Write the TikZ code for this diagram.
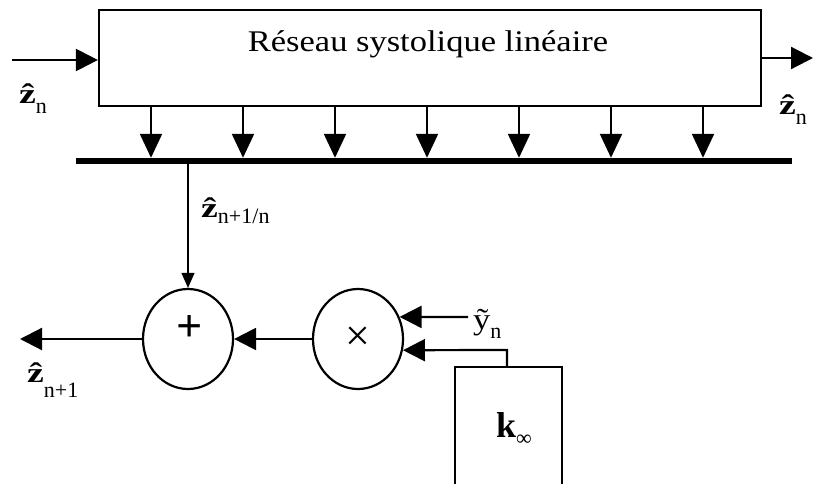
\documentclass[tikz,border=0pt]{standalone}
\usepackage{fontspec}
\setmainfont{Liberation Serif}
\usetikzlibrary{arrows.meta,shapes.geometric}
\newcommand{\hs}[1]{\scalebox{1.15}[1]{#1}}
\newcommand{\zhat}{\scalebox{1.35}[1]{\fontsize{28}{28}\selectfont\bfseries ẑ}}
\newcommand{\lowsub}[2]{\raisebox{-#1pt}{\fontsize{22}{22}\selectfont #2}}
\tikzset{
  blk/.style={draw, line width=2.2pt, inner sep=0pt},
  sumnode/.style={draw, ellipse, line width=2.2pt, minimum width=90pt, minimum height=100pt, inner sep=0pt},
  bigarrow/.style={line width=2.2pt, -{Triangle[length=22pt,width=22pt]}},
  thinarrow/.style={line width=1.1pt, -{Triangle[length=15pt,width=13pt]}},
  lab/.style={inner sep=0pt, anchor=base west}
}
\begin{document}
\begin{tikzpicture}[x=1pt,y=-1pt]
\useasboundingbox (0,0) rectangle (813,484);
\clip (0,0) rectangle (813,484);
% main block
\node[blk, minimum width=662pt, minimum height=96pt] (sys) at (430,58) {};
\node[inner sep=0pt, anchor=base, font=\fontsize{30}{30}\selectfont] (systxt) at (428,52) {\hs{Réseau systolique linéaire}};
% bus bar
\node[fill=black, inner sep=0pt, minimum width=716pt, minimum height=6pt] (bar) at (434,161) {};
% down arrows
\foreach \i/\x in {1/151,2/243,3/335,4/427,5/519,6/611,7/703}{
  \coordinate (c\i) at (\x,0);
  \draw[line width=2.2pt, -{Triangle[length=24pt,width=22pt]}] (sys.south -| c\i) -- (bar.north -| c\i);
}
% input / output of block
\coordinate (zin) at (12,60);
\draw[bigarrow] (zin) -- (zin -| sys.west);
\coordinate (zo) at (813,58);
\draw[bigarrow] (sys.east |- zo) -- (zo);
\node[lab] (lzin) at (19,103) {\zhat\lowsub{10}{n}};
\node[lab] (lzo) at (779,114) {\zhat\lowsub{10}{n}};
% adder and multiplier
\node[sumnode] (plus) at (188,339) {};
\node[inner sep=0pt, font=\fontsize{46}{46}\selectfont\bfseries] (plussign) at (190,329) {+};
\node[sumnode] (times) at (358,339) {\fontsize{44}{44}\selectfont ×};
\draw[thinarrow] (bar.south -| plus) -- (plus.north);
\node[lab] (lpred) at (201,217) {\zhat\lowsub{6}{n+1/n}};
\draw[bigarrow] (times.west) -- (plus.east);
\coordinate (zout) at (20,339);
\draw[bigarrow] (plus.west) -- (zout);
\node[lab] (lzout) at (27,382) {\zhat\lowsub{15}{n+1}};
% innovation input
\coordinate (yin) at (468,317);
\draw[bigarrow] (yin) -- (times.28.6);
\node[lab] (ly) at (473,329) {\scalebox{1.15}[1]{\fontsize{30}{30}\selectfont ỹ}\lowsub{9}{n}};
% gain block
\node[blk, minimum width=107pt, minimum height=150pt] (kbox) at (508.5,442) {};
\node[inner sep=0pt, anchor=base west] (klab) at (496,437) {\fontsize{36}{36}\selectfont\bfseries k\raisebox{-8pt}{\fontsize{22}{22}\selectfont\mdseries ∞}};
\coordinate (kt) at (507,350);
\draw[bigarrow] (kbox.north -| kt) -- (kt) -- (times.-14);
\end{tikzpicture}
\end{document}
